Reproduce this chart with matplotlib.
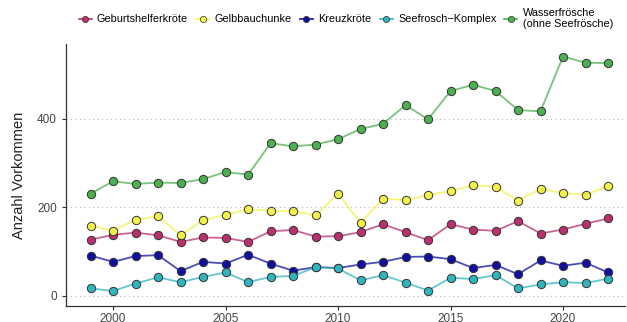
import matplotlib
matplotlib.use("Agg")
import matplotlib.pyplot as plt

plt.rcParams['font.family'] = ['Liberation Sans', 'DejaVu Sans']

years = list(range(1999, 2023))
series_names = ["Geburtshelferkröte", "Gelbbauchunke", "Kreuzkröte",
                "Seefrosch\u2212Komplex", "Wasserfrösche\n(ohne Seefrösche)"]
geburtshelfer = [127, 138, 143, 137, 122, 132, 131, 122, 146, 149, 134, 135,
                 144, 162, 144, 126, 162, 150, 147, 169, 141, 150, 163, 175]
gelbbauch = [159, 147, 172, 180, 137, 171, 183, 196, 192, 192, 182, 231,
             165, 220, 216, 228, 237, 250, 247, 215, 242, 232, 229, 248]
kreuzkroete = [91, 77, 90, 92, 56, 77, 73, 93, 73, 57, 65, 63,
               71, 77, 88, 89, 83, 63, 70, 49, 80, 68, 75, 53]
seefrosch = [17, 11, 28, 42, 31, 43, 53, 31, 43, 45, 65, 62,
             35, 47, 30, 12, 41, 38, 47, 17, 26, 31, 29, 39]
wasser = [231, 259, 253, 256, 255, 264, 280, 274, 345, 338, 342, 354,
          377, 389, 431, 399, 463, 477, 463, 420, 417, 541, 527, 526]
values = [geburtshelfer, gelbbauch, kreuzkroete, seefrosch, wasser]
colors = ["#B8306E", "#F2F24A", "#1010A0", "#30B4BE", "#4CAF50"]

fig = plt.figure(figsize=(6.27, 3.22), dpi=100)
ax = fig.add_axes([0.105, 0.05, 0.892, 0.813])

for name, vals, c in zip(series_names, values, colors):
    ax.plot(years, vals, color=c, lw=1.3, alpha=0.75, zorder=2)
    ax.plot(years, vals, ls='none', marker='o', ms=6, mfc=c, mec='#333333',
            mew=0.7, zorder=3)

handles = [plt.Line2D([], [], color=c, lw=1.2, marker='o', ms=4.5, mfc=c,
                      mec='#333333', mew=0.5) for c in colors]
fig.legend(handles, series_names, loc='upper right', bbox_to_anchor=(0.99, 1.0),
           ncol=5, frameon=False, fontsize=7.8, handlelength=1.2,
           handletextpad=0.5, columnspacing=0.75, borderaxespad=0.3,
           labelspacing=0.2)

ax.set_xlim(1997.9, 2022.76)
ax.set_ylim(-22.6, 569)
ax.set_xticks([2000, 2005, 2010, 2015, 2020])
ax.set_yticks([0, 200, 400])
ax.yaxis.grid(True, ls=(0, (1, 3)), color='#BBBBBB', lw=0.8)
ax.set_axisbelow(True)
for s in ['top', 'right']:
    ax.spines[s].set_visible(False)
for s in ['left', 'bottom']:
    ax.spines[s].set_color('#333333')
    ax.spines[s].set_linewidth(0.9)
ax.tick_params(labelsize=8.5, colors='#333333', length=3, width=0.8)
ax.tick_params(axis='x', pad=2)
ax.tick_params(labelcolor='#444444')
ax.set_ylabel("Anzahl Vorkommen", fontsize=10.5, color='#222222', labelpad=8)

fig.savefig("out.png", dpi=100)
